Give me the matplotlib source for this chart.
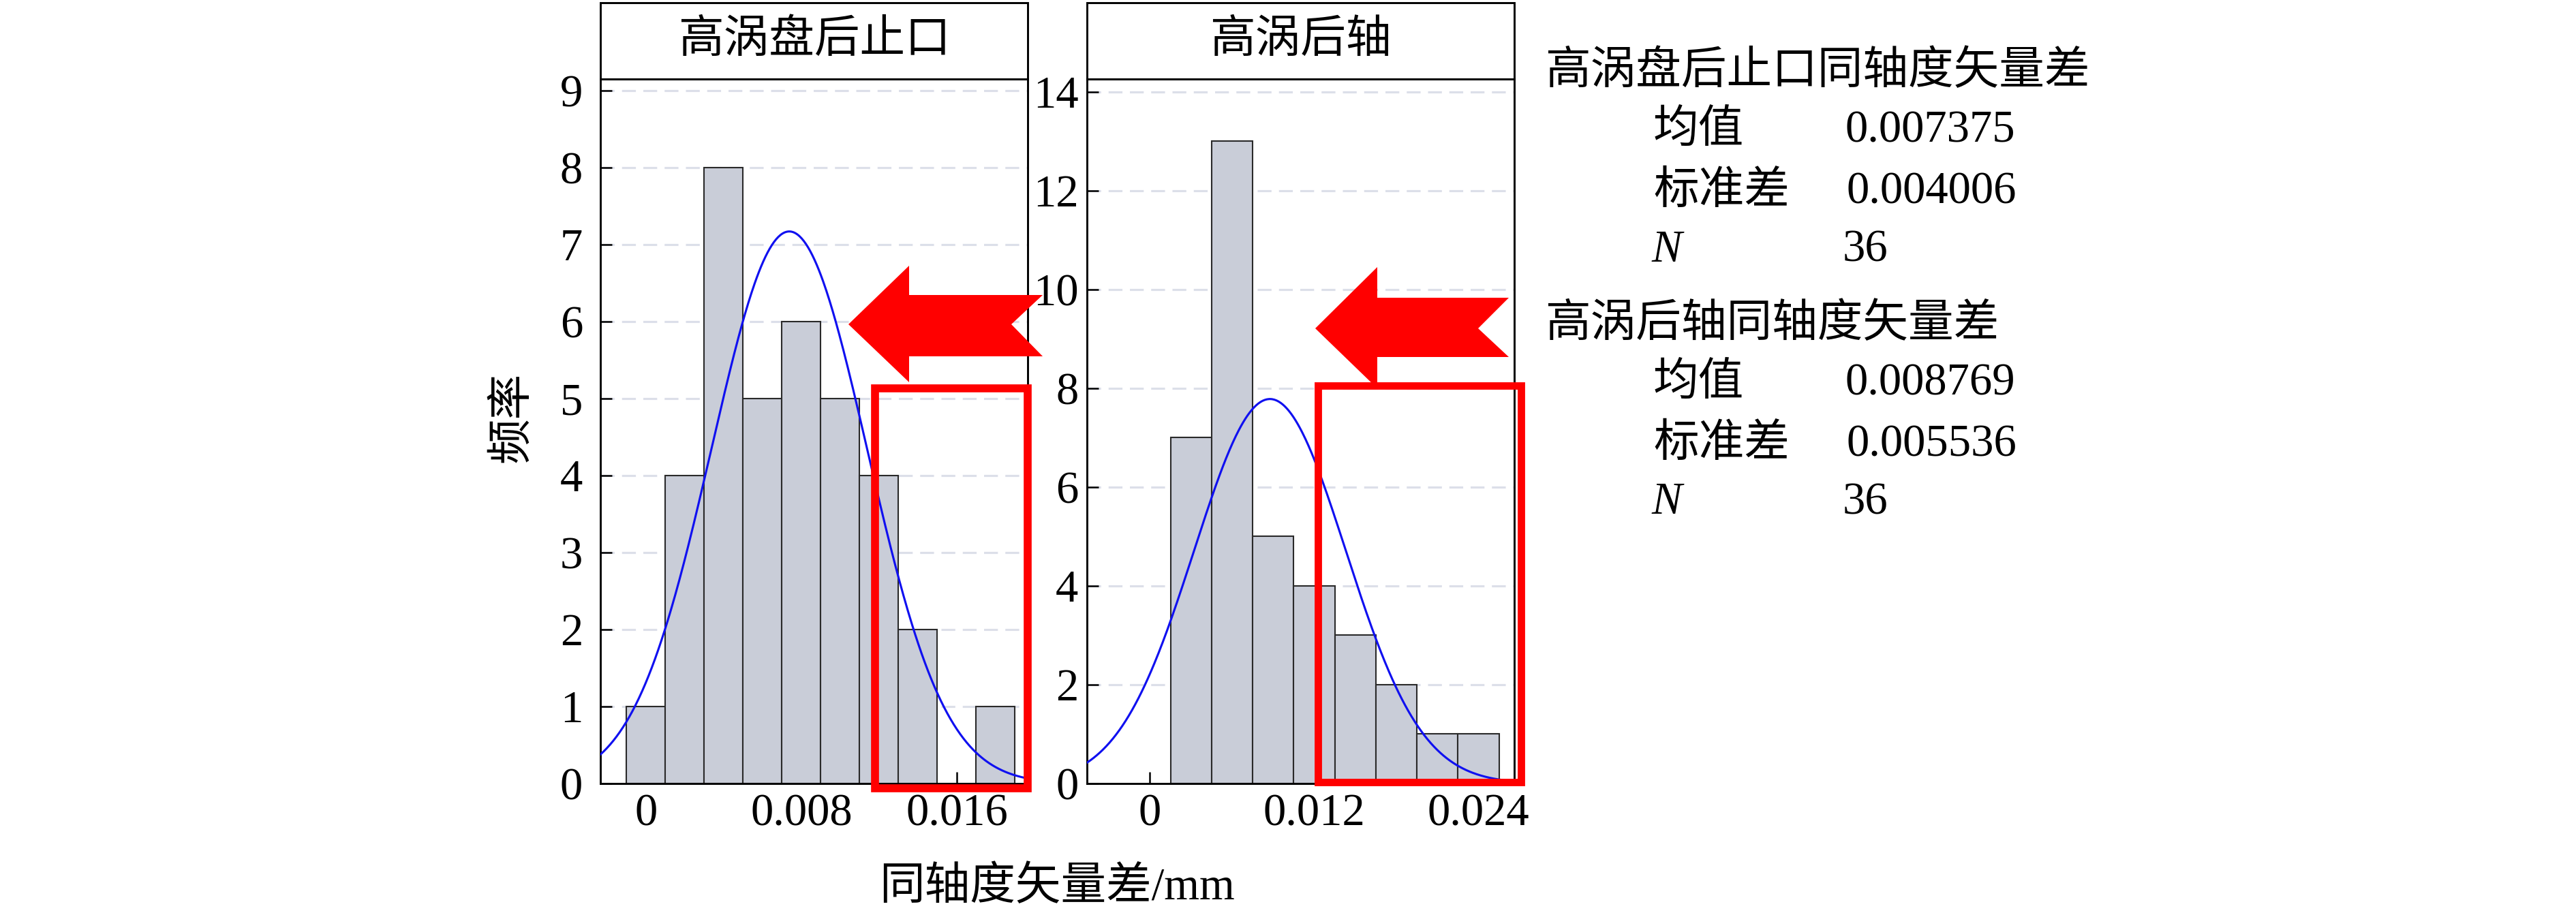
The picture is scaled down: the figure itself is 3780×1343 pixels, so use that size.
import numpy as np
import matplotlib.pyplot as plt
from matplotlib.patches import Polygon, Rectangle

plt.rcParams['font.family'] = ['Liberation Serif', 'Noto Sans CJK SC']
plt.rcParams['font.size'] = 16

W, H = 3780, 1343

titles = ['高涡盘后止口', '高涡后轴']
centers_a = [0.000, 0.002, 0.004, 0.006, 0.008, 0.010, 0.012, 0.014, 0.016, 0.018]
counts_a = [1, 4, 8, 5, 6, 5, 4, 2, 0, 1]
centers_b = [0.003, 0.006, 0.009, 0.012, 0.015, 0.018, 0.021, 0.024]
counts_b = [7, 13, 5, 4, 3, 2, 1, 1]
bin_w = [0.002, 0.003]
means = [0.007375, 0.008769]
stds = [0.004006, 0.005536]
ns = [36, 36]
xticks = [[0, 0.008, 0.016], [0, 0.012, 0.024]]
xticklabels = [['0', '0.008', '0.016'], ['0', '0.012', '0.024']]
yticks = [list(range(0, 10)), list(range(0, 15, 2))]
xlims = [(-0.00235, 0.01965), (-0.0046, 0.02662)]
ylims = [(0, 9.15), (0, 14.26)]
stat_names = ['高涡盘后止口同轴度矢量差', '高涡后轴同轴度矢量差']


def px(x, y):
    return (x / W, 1 - y / H)


fig = plt.figure(figsize=(W / 300, H / 300), dpi=300)
ax1 = fig.add_axes([881 / W, 1 - 1150 / H, 627 / W, 1034 / H])
ax2 = fig.add_axes([1595 / W, 1 - 1150 / H, 627 / W, 1034 / H])
axes = [ax1, ax2]
all_centers = [centers_a, centers_b]
all_counts = [counts_a, counts_b]
ypads = [6.2, 3.0]

for i, ax in enumerate(axes):
    ax.set_xlim(*xlims[i])
    ax.set_ylim(*ylims[i])
    # dashed grid behind the bars
    for t in yticks[i][1:]:
        ax.axhline(t, color='#dcdfe9', lw=0.75, ls=(0, (6.5, 3.5)), zorder=0)
    ax.bar(all_centers[i], all_counts[i], width=bin_w[i], color='#c9cdd8',
           edgecolor='#2a2a2a', linewidth=0.5, zorder=2)
    # fitted normal curve
    xs = np.linspace(xlims[i][0], xlims[i][1], 400)
    ys = ns[i] * bin_w[i] * np.exp(-0.5 * ((xs - means[i]) / stds[i]) ** 2) / (stds[i] * np.sqrt(2 * np.pi))
    ax.plot(xs, ys, color='#1010f0', lw=0.75, zorder=3)

    ax.set_xticks(xticks[i])
    ax.set_xticklabels(xticklabels[i])
    ax.set_yticks(yticks[i])
    ax.tick_params(direction='in', length=4, width=0.6, labelsize=16)
    ax.tick_params(axis='y', pad=ypads[i])
    ax.tick_params(axis='x', pad=3.5)
    for sp in ax.spines.values():
        sp.set_linewidth(0.7)

    # title box
    ax.add_patch(Rectangle((0, 1), 1, 112 / 1034, transform=ax.transAxes,
                           facecolor='white', edgecolor='black', lw=0.7, clip_on=False))
    ax.text(0.5, 1 + 56 / 1034, titles[i], transform=ax.transAxes,
            ha='center', va='center', fontsize=16)

# red highlight boxes
ax1.add_patch(Rectangle((0.0118, -0.06), 0.01965 - 0.0118, 5.19, fill=False,
                        edgecolor='#ff0000', lw=2.8, clip_on=False, zorder=5))
ax2.add_patch(Rectangle((0.01227, 0.03), 0.02713 - 0.01227, 8.03, fill=False,
                        edgecolor='#ff0000', lw=2.6, clip_on=False, zorder=5))

# red arrows
arrow_a = [(1245, 476), (1334, 390), (1334, 433), (1530, 433), (1484, 476),
           (1530, 523), (1334, 523), (1334, 561)]
arrow_b = [(1930, 482), (2021, 392), (2021, 437), (2214, 437), (2169, 482),
           (2214, 524), (2021, 524), (2021, 570)]
for arr in [arrow_a, arrow_b]:
    fig.add_artist(Polygon([px(x, y) for x, y in arr], closed=True,
                           facecolor='#ff0000', edgecolor='none',
                           transform=fig.transFigure, zorder=6))

# axis labels
fig.text(*px(752, 612), '频率', rotation=90, ha='center', va='center', fontsize=16)
fig.text(*px(1551, 1303), '同轴度矢量差/mm', ha='center', va='center', fontsize=16)

# statistics block
y0s = [106, 477]
for i in range(2):
    y0 = y0s[i]
    fig.text(*px(2267, y0), stat_names[i], ha='left', va='center', fontsize=16)
    fig.text(*px(2426, y0 + 86), '均值', ha='left', va='center', fontsize=16)
    fig.text(*px(2707, y0 + 86), '%.6f' % means[i], ha='left', va='center', fontsize=16)
    fig.text(*px(2426, y0 + 176), '标准差', ha='left', va='center', fontsize=16)
    fig.text(*px(2710, y0 + 176), '%.6f' % stds[i], ha='left', va='center', fontsize=16)
    fig.text(*px(2423, y0 + 261), 'N', ha='left', va='center', fontsize=16, fontstyle='italic')
    fig.text(*px(2704, y0 + 261), str(ns[i]), ha='left', va='center', fontsize=16)

fig.savefig('out.png', dpi=300, facecolor='white')
